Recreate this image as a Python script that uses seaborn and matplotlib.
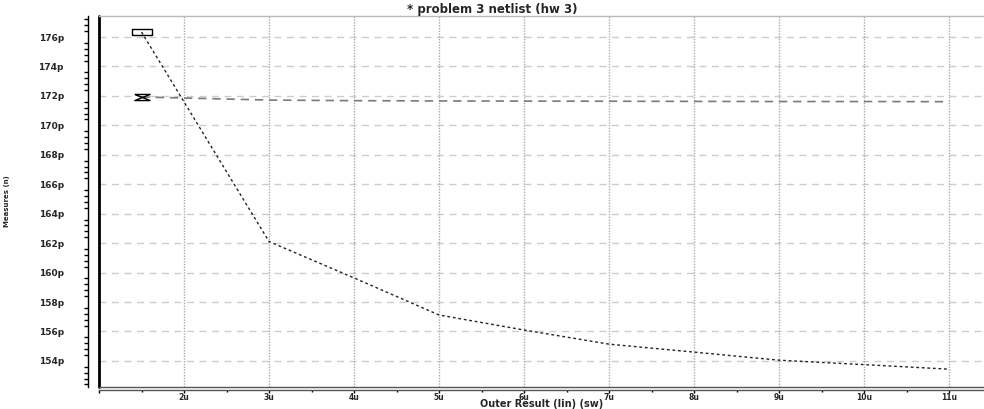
import matplotlib
matplotlib.use("Agg")
import matplotlib.pyplot as plt
import seaborn as sns
import pandas as pd
from matplotlib.ticker import MultipleLocator, FuncFormatter, FixedLocator

# sweep values (u) and measured results (p)
sweep = [1.5, 3, 4, 5, 6, 7, 8, 9, 10, 11]
meas_a = [176.34, 162.11, 159.64, 157.12, 156.10, 155.14, 154.60, 154.05, 153.75, 153.44]
meas_b = [171.93, 171.72, 171.68, 171.66, 171.65, 171.64, 171.63, 171.62, 171.62, 171.61]

x_ticks = [1, 2, 3, 4, 5, 6, 7, 8, 9, 10, 11]
title = "* problem 3 netlist (hw 3)"
x_label = "Outer Result (lin) (sw)"
y_label = "Measures (n)"

sns.set_style("white")
plt.rcParams["font.family"] = ["DejaVu Sans"]
plt.rcParams["font.weight"] = "bold"

df = pd.DataFrame({"sweep": sweep, "a": meas_a, "b": meas_b})

fig = plt.figure(figsize=(9.84, 4.09), dpi=100)
ax = fig.add_axes([99 / 984, 1 - 387 / 409, 885 / 984, 371 / 409])

# marker shapes
box = [(-3, -1), (3, -1), (3, 1), (-3, 1), (-3, -1)]
hourglass = [(-2.5, 1), (2.5, 1), (-2.5, -1), (2.5, -1), (-2.5, 1)]

sns.lineplot(data=df, x="sweep", y="a", ax=ax, estimator=None, sort=False,
             color="#222222", lw=1.0, linestyle=(0, (2, 2)),
             marker=box, markevery=[0], markersize=13.7,
             markerfacecolor="none", markeredgecolor="black", markeredgewidth=1.0)
sns.lineplot(data=df, x="sweep", y="b", ax=ax, estimator=None, sort=False,
             color="#7a7a7a", lw=1.2, linestyle=(0, (5, 3.5)),
             marker=hourglass, markevery=[0], markersize=11,
             markerfacecolor="none", markeredgecolor="black", markeredgewidth=1.0)

ax.set_xlim(1.0, 11.41)
ax.set_ylim(152.23, 177.43)

ax.xaxis.set_major_locator(FixedLocator(x_ticks))
ax.xaxis.set_minor_locator(MultipleLocator(0.5))
ax.xaxis.set_major_formatter(FuncFormatter(lambda v, p: "" if v < 1.5 else f"{v:.0f}u"))
ax.yaxis.set_major_locator(MultipleLocator(2))
ax.yaxis.set_minor_locator(MultipleLocator(0.4))
ax.yaxis.set_major_formatter(FuncFormatter(lambda v, p: f"{v:.0f}p"))

# grid
for yv in ax.get_yticks():
    if 152.23 < yv < 177.43:
        ax.axhline(yv, color="#cccccc", lw=1.0, linestyle=(0, (5, 4)), zorder=0)
for xv in x_ticks[1:]:
    ax.axvline(xv, color="#aaaaaa", lw=1.0, linestyle=(0, (1, 1)), zorder=0)

ax.tick_params(axis="y", which="major", length=4.3, width=1, color="black",
               labelsize=6.5, pad=13)
ax.tick_params(axis="y", which="minor", length=2.9, width=1, color="black", left=True)
ax.tick_params(axis="x", which="major", length=2.5, width=1, color="black",
               labelsize=5.5, pad=0, bottom=True)
ax.tick_params(axis="x", which="minor", length=1.5, width=1, color="black", bottom=True)

ax.spines["right"].set_visible(False)
ax.spines["top"].set_color("#bbbbbb")
ax.spines["top"].set_linewidth(1)
ax.spines["left"].set_position(("outward", 8))
ax.spines["left"].set_color("black")
ax.spines["left"].set_linewidth(1)
ax.spines["bottom"].set_position(("outward", 2))
ax.spines["bottom"].set_color("#555555")
ax.spines["bottom"].set_linewidth(1)

# plot frame lines inside the offset axes
ax.plot([0, 0], [0, 1], transform=ax.transAxes, color="black", lw=2, clip_on=False)
ax.plot([0, 1], [0, 0], transform=ax.transAxes, color="#555555", lw=1, clip_on=False)

ax.set_xlabel(x_label, fontsize=7, fontweight="bold", va="center")
ax.xaxis.set_label_coords(0.5, -0.0465)
ax.set_ylabel(y_label, fontsize=5, fontweight="bold",
              family=["Liberation Sans Narrow", "DejaVu Sans"])
ax.yaxis.set_label_coords(-0.1006, 0.5)

fig.suptitle(title, fontsize=8.5, fontweight="bold", x=0.5, y=1 - 9 / 409, va="center")

fig.savefig("out.png", dpi=100)
